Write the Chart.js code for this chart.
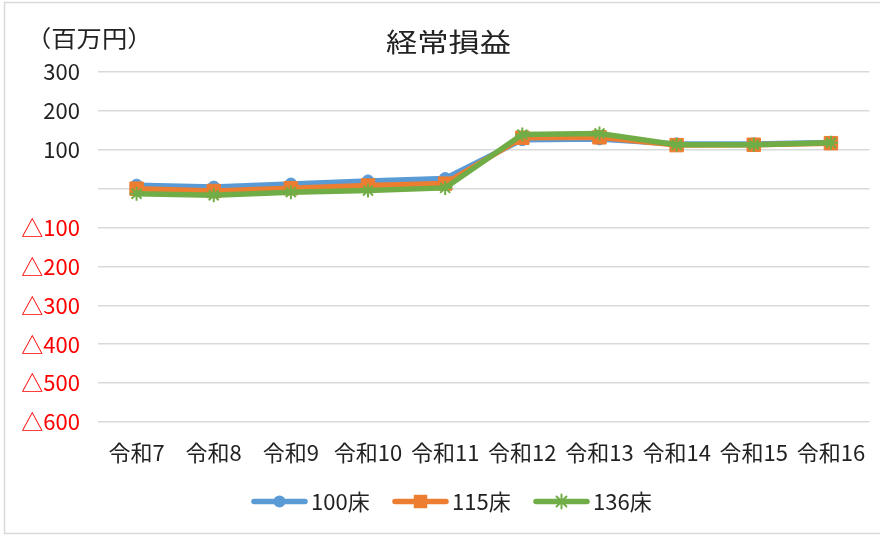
<!DOCTYPE html>
<html><head><meta charset="utf-8">
<script src="https://cdn.jsdelivr.net/npm/chart.js@4"></script>
<style>html,body{margin:0;padding:0;background:#fff}canvas{display:block}</style>
</head><body>
<canvas id="c" width="880" height="536"></canvas>
<script>
const categories = ['令和7','令和8','令和9','令和10','令和11','令和12','令和13','令和14','令和15','令和16'];
const beds100 = [9, 4, 12, 20, 26, 126, 128, 115, 115, 119];
const beds115 = [0, -6, 1, 8, 13, 131, 132, 112, 113, 117];
const beds136 = [-13, -17, -9, -5, 2, 139, 142, 113, 113, 118];
const seriesNames = ['100床', '115床', '136床'];
const yMin = -600, yMax = 300, yStep = 100;
const chartTitle = '経常損益';
const unitLabel = '（百万円）';

const FONT = "'Noto Sans CJK JP','Noto Sans',sans-serif";
const TEXT = '#222222';
const colors = ['#5B9BD5', '#ED7D31', '#70AD47'];
const pStyles = ['circle', 'rect', 'star'];
const pRadius = [6, 9.5, 7];
const pBorder = [1, 1, 2];
const LW = 5.5;

function drawMarker(ctx, style, x, y, r, color, bw) {
  ctx.save();
  ctx.fillStyle = color; ctx.strokeStyle = color; ctx.lineWidth = bw;
  ctx.beginPath();
  if (style === 'circle') { ctx.arc(x, y, r, 0, Math.PI * 2); ctx.fill(); }
  else if (style === 'rect') { const s = r * Math.SQRT1_2; ctx.rect(x - s, y - s, 2 * s, 2 * s); ctx.fill(); }
  else {
    for (let k = 0; k < 4; k++) {
      const a = k * Math.PI / 4;
      ctx.moveTo(x + Math.cos(a) * r, y + Math.sin(a) * r);
      ctx.lineTo(x - Math.cos(a) * r, y - Math.sin(a) * r);
    }
    ctx.stroke();
  }
  ctx.restore();
}

const decor = {
  id: 'decor',
  afterDraw(chart) {
    const ctx = chart.ctx;
    ctx.save();
    // border
    ctx.strokeStyle = '#d9d9d9'; ctx.lineWidth = 1.5;
    ctx.beginPath();
    ctx.moveTo(4.5, 534); ctx.lineTo(4.5, 2.5); ctx.lineTo(880, 2.5);
    ctx.moveTo(4.5, 533.5); ctx.lineTo(880, 533.5);
    ctx.stroke();
    // title
    ctx.fillStyle = TEXT;
    ctx.textBaseline = 'middle';
    ctx.save();
    ctx.translate(448.5, 42);
    ctx.scale(1.2, 1);
    ctx.textAlign = 'center';
    ctx.font = "26px " + FONT;
    ctx.fillText(chartTitle, 0, 0);
    ctx.restore();
    // unit
    ctx.save();
    ctx.translate(26, 38);
    ctx.scale(1.1, 1);
    ctx.textAlign = 'left';
    ctx.font = "23px " + FONT;
    ctx.fillText(unitLabel, 0, 0);
    ctx.restore();
    // legend
    ctx.textAlign = 'left';
    ctx.font = "22px " + FONT;
    const ly = 501.5;
    chart.data.datasets.forEach((ds, i) => {
      const x0 = 252 + i * 141;
      ctx.strokeStyle = colors[i]; ctx.lineWidth = LW; ctx.lineCap = 'round';
      ctx.beginPath(); ctx.moveTo(x0 + 2, ly); ctx.lineTo(x0 + 53, ly); ctx.stroke();
      drawMarker(ctx, pStyles[i], x0 + 27.5, ly, pRadius[i], colors[i], pBorder[i]);
      ctx.fillStyle = TEXT;
      ctx.fillText(ds.label, x0 + 59, ly);
    });
    ctx.restore();
  }
};

const seriesData = [beds100, beds115, beds136];
new Chart(document.getElementById('c'), {
  type: 'line',
  data: {
    labels: categories,
    datasets: seriesData.map((d, i) => ({
      label: seriesNames[i],
      data: d,
      borderColor: colors[i],
      backgroundColor: colors[i],
      borderWidth: LW,
      pointStyle: pStyles[i],
      pointRadius: pRadius[i],
      pointBorderWidth: pBorder[i],
      pointBackgroundColor: colors[i],
      pointBorderColor: colors[i],
      order: 3 - i,
      tension: 0,
      fill: false
    }))
  },
  options: {
    responsive: false,
    animation: false,
    devicePixelRatio: 1,
    layout: { padding: { left: 0, right: 5, top: 72, bottom: 54 } },
    plugins: { legend: { display: false }, title: { display: false }, tooltip: { enabled: false } },
    scales: {
      x: {
        offset: true,
        grid: { display: false, drawTicks: false },
        border: { display: false },
        ticks: { font: { family: FONT, size: 22 }, color: TEXT, padding: 17, maxRotation: 0, autoSkip: false },
        afterFit(s) { s.height = 60; s.paddingLeft = 0; s.paddingRight = 0; }
      },
      y: {
        min: yMin, max: yMax,
        ticks: {
          stepSize: yStep,
          font: { family: FONT, size: 22 },
          color: (c) => (c.tick && c.tick.value < 0) ? '#FF0000' : TEXT,
          padding: 18,
          callback: (v) => v === 0 ? '' : (v < 0 ? '△' + Math.abs(v) : String(v))
        },
        grid: { color: '#d9d9d9', lineWidth: 1.5, drawTicks: false },
        border: { display: false },
        afterFit(s) { s.width = 98; s.paddingTop = 0; s.paddingBottom = 0; }
      }
    }
  },
  plugins: [decor]
});
</script>
</body></html>
